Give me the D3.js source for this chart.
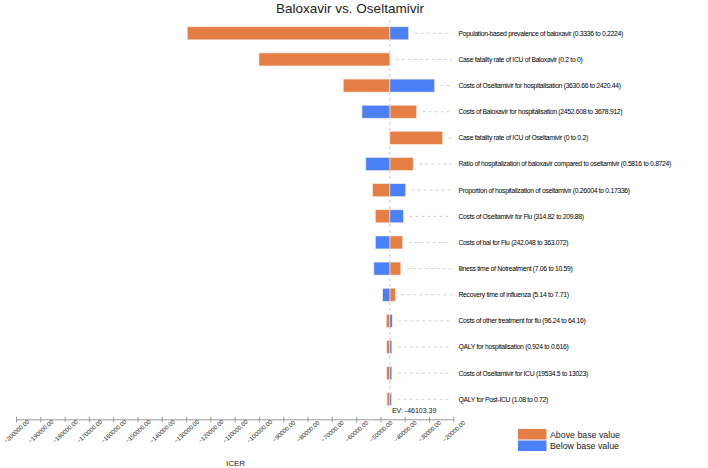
<!DOCTYPE html>
<html>
<head>
<meta charset="utf-8">
<script src="https://cdn.jsdelivr.net/npm/d3@7"></script>
<style>
  html, body { margin: 0; padding: 0; background: #fff; }
  svg { display: block; font-family: Arial, "Liberation Sans", sans-serif; }
</style>
</head>
<body>
<div id="chart"></div>
<script>
const baseValue = -46103.39;

const params = [
  'Population-based prevalence of baloxavir (0.3336 to 0.2224)',
  'Case fatality rate of ICU of Baloxavir (0.2 to 0)',
  'Costs of Oseltamivir for hospitalisation (3630.66 to 2420.44)',
  'Costs of Baloxavir for hospitalisation (2452.608 to 3678.912)',
  'Case fatality rate of ICU of Oseltamivir (0 to 0.2)',
  'Ratio of  hospitalization of baloxavir compared to oseltamivir (0.5816 to 0.8724)',
  'Proportion of hospitalization of oseltamivir (0.26004 to 0.17336)',
  'Costs of Oseltamivir for Flu (314.82 to 209.88)',
  'Costs of bal for Flu (242.048 to 363.072)',
  'Illness time of Notreatment (7.06 to 10.59)',
  'Recovery time of influenza (5.14 to 7.71)',
  'Costs of other treatment for flu (96.24 to 64.16)',
  'QALY for hospitalisation (0.924 to 0.616)',
  'Costs of Oseltamivir for ICU (19534.5 to 13023)',
  'QALY for Post-ICU (1.08 to 0.72)'
];

// ICER when the parameter is set to its high / low value
const aboveBase = [-129500, -100000, -65300, -35100, -24400, -36500, -53200, -52100, -40900, -41600, -43900, -47600, -47400, -47400, -47300];
const belowBase = [-38400, -46103.39, -27700, -57600, -46103.39, -56000, -39600, -40500, -52100, -52700, -49100, -45100, -45300, -45300, -45400];

const tickValues = d3.range(-200000, -19999, 10000);
const legendLabels = ['Above base value', 'Below base value'];

const W = 708, H = 468;
const orange = '#E57E45', blue = '#4A80F8';

const svg = d3.select('#chart').append('svg')
  .attr('width', W).attr('height', H);

const x = d3.scaleLinear().domain([-200000, -20000]).range([16, 453.3]);
const y = d3.scalePoint().domain(params).range([33.3, 399.3]);
const barH = 13;
const labelX = 458.5;

svg.append('text')
  .attr('x', 350).attr('y', 13)
  .attr('text-anchor', 'middle')
  .attr('font-size', '13.5px')
  .attr('fill', '#222')
  .text('Baloxavir vs. Oseltamivir');

// base value line
svg.append('line')
  .attr('x1', x(baseValue)).attr('x2', x(baseValue))
  .attr('y1', 20).attr('y2', 406)
  .attr('stroke', '#c8c8c8').attr('stroke-width', 1)
  .attr('stroke-dasharray', '3 3');

const rows = params.map((p, i) => ({ p, above: aboveBase[i], below: belowBase[i] }));

const g = svg.append('g');

// leader lines
g.selectAll('line.lead')
  .data(rows).enter().append('line')
  .attr('class', 'lead')
  .attr('x1', d => Math.max(x(d.above), x(d.below), x(baseValue)) + 6)
  .attr('x2', labelX - 7)
  .attr('y1', d => y(d.p)).attr('y2', d => y(d.p))
  .attr('stroke', '#d0d0d0').attr('stroke-width', 1)
  .attr('stroke-dasharray', '3 3');

function bars(key, color) {
  g.selectAll('rect.' + key)
    .data(rows.filter(d => d[key] !== baseValue)).enter().append('rect')
    .attr('class', key)
    .attr('x', d => Math.min(x(d[key]), x(baseValue)))
    .attr('width', d => Math.abs(x(d[key]) - x(baseValue)))
    .attr('y', d => y(d.p) - barH / 2)
    .attr('height', barH)
    .attr('fill', color)
    .attr('stroke', '#fbe9df').attr('stroke-width', 0.6);
}
bars('above', orange);
bars('below', blue);

g.selectAll('text.lbl')
  .data(rows).enter().append('text')
  .attr('class', 'lbl')
  .attr('x', labelX).attr('y', d => y(d.p))
  .attr('dy', '0.35em')
  .attr('font-size', '6.8px')
  .attr('letter-spacing', '-0.3px')
  .attr('fill', '#000')
  .text(d => d.p);

svg.append('text')
  .attr('x', x(baseValue) + 2).attr('y', 413)
  .attr('font-size', '7px').attr('fill', '#111')
  .text('EV: ' + baseValue.toFixed(2));

// axis
const axisY = 419.3;
const ax = svg.append('g')
  .attr('transform', `translate(0,${axisY})`)
  .call(d3.axisBottom(x).tickValues(tickValues).tickFormat(d3.format('.2f')).tickSize(3).tickSizeOuter(0));
ax.select('.domain').attr('stroke', '#999');
ax.selectAll('.tick line').attr('stroke', '#999').attr('y1', -2.5);
ax.selectAll('.tick text')
  .attr('font-size', '6px')
  .attr('font-family', 'Arial, "Liberation Sans", sans-serif')
  .attr('fill', '#222')
  .attr('text-anchor', 'middle')
  .attr('x', 0).attr('y', 0).attr('dy', '0.35em')
  .attr('transform', 'translate(0,12) rotate(-42)');

svg.append('text')
  .attr('x', 235.5).attr('y', 466)
  .attr('text-anchor', 'middle')
  .attr('font-size', '8px').attr('fill', '#222')
  .text('ICER');

// legend
const leg = svg.append('g').attr('transform', 'translate(518,429)');
leg.selectAll('rect')
  .data(legendLabels).enter().append('rect')
  .attr('x', 0).attr('y', (d, i) => i * 11.5)
  .attr('width', 28.5).attr('height', 10.5)
  .attr('fill', (d, i) => i === 0 ? orange : blue);
leg.selectAll('text')
  .data(legendLabels).enter().append('text')
  .attr('x', 32).attr('y', (d, i) => i * 11.5 + 5.5)
  .attr('dy', '0.35em')
  .attr('font-size', '8.8px').attr('fill', '#222')
  .text(d => d);
</script>
</body>
</html>
